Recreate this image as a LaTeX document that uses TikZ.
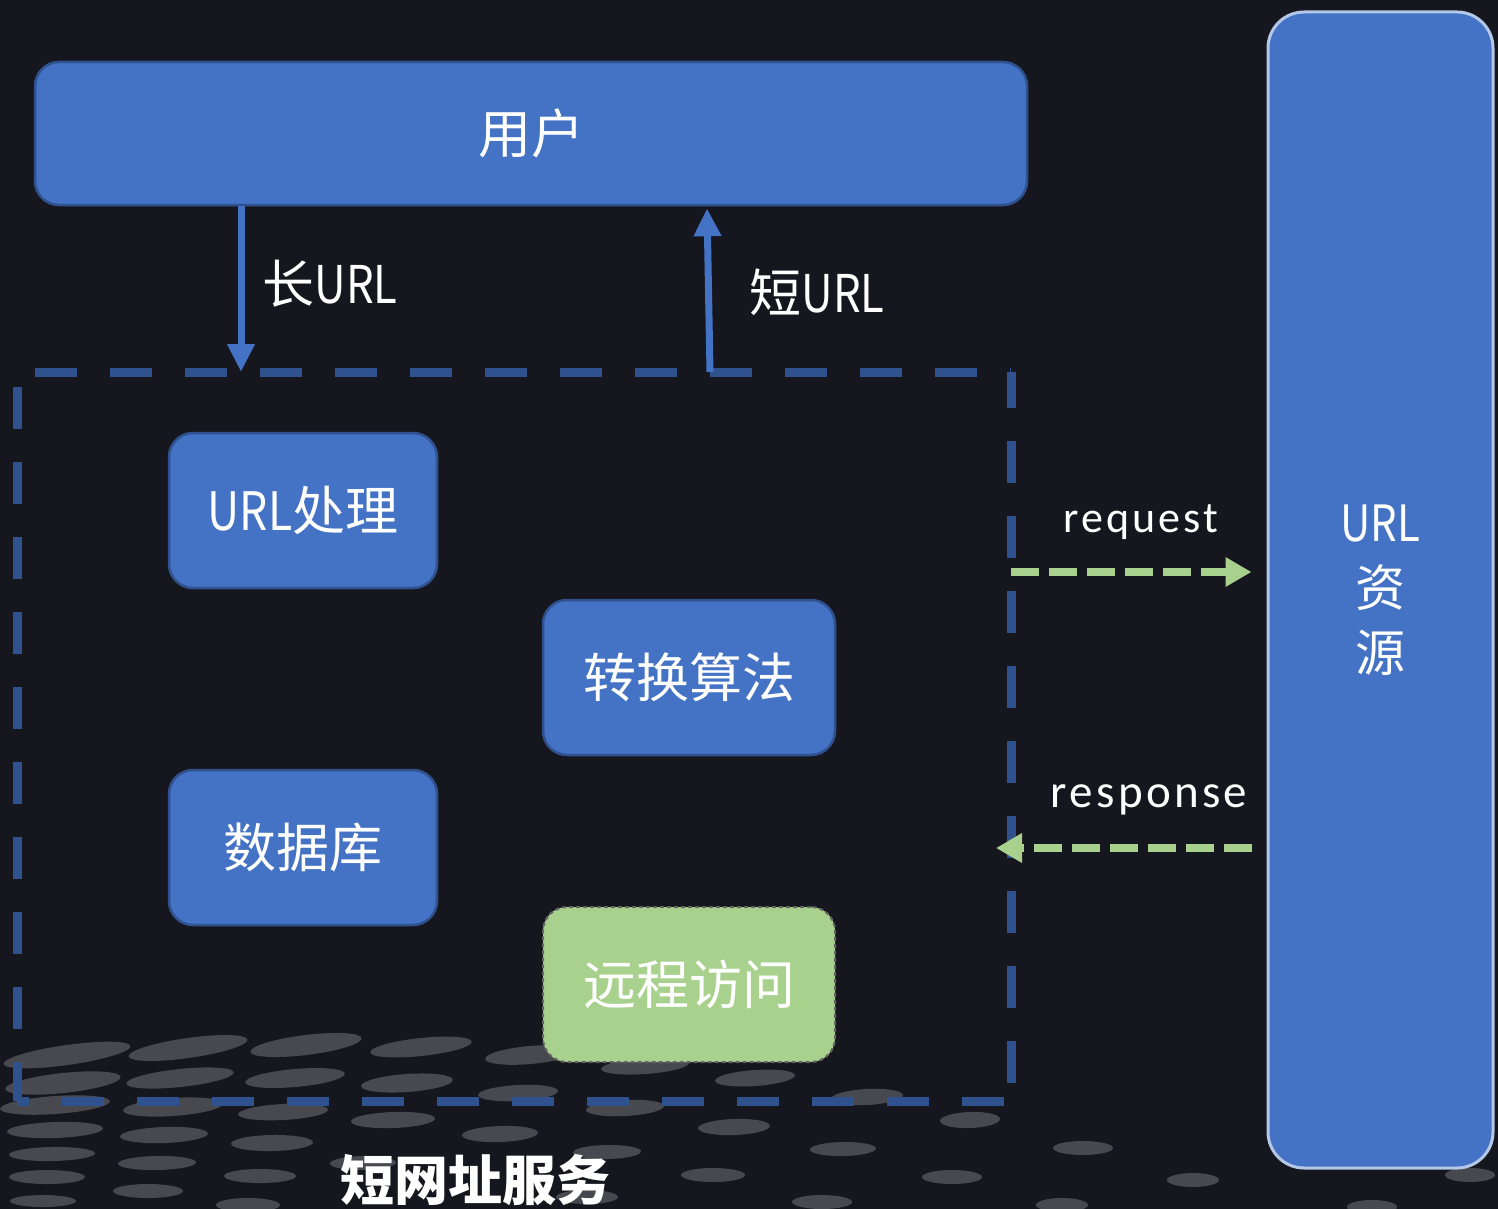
\documentclass[tikz,border=0pt]{standalone}
\usepackage{graphicx}
\usepackage{fontspec}
\setmainfont{Noto Sans CJK SC}
\newfontfamily\reqfont[LetterSpace=7]{Carlito}
\newcommand\condurl{\scalebox{0.84}[1]{URL}}
\usetikzlibrary{arrows.meta,calc}
\definecolor{bgc}{RGB}{22,22,30}
\definecolor{boxblue}{RGB}{68,114,196}
\definecolor{boxedge}{RGB}{47,82,143}
\definecolor{lightedge}{RGB}{180,199,231}
\definecolor{lgreen}{RGB}{169,209,142}
\definecolor{dotc}{RGB}{72,72,79}
\definecolor{greyedge}{RGB}{100,100,100}
\tikzset{
  bluebox/.style={draw=boxedge, line width=2.5pt, fill=boxblue, rounded corners=24pt,
    text=white, font=\fontsize{53}{60}\selectfont, inner sep=0pt},
  greenbox/.style={draw=greyedge, line width=2pt, dash pattern=on 4pt off 3pt, fill=lgreen,
    rounded corners=24pt, text=white, font=\fontsize{53}{60}\selectfont, inner sep=0pt},
  container/.style={inner sep=0pt, outer sep=0pt},
  cside/.style={draw=boxedge, line width=9pt, dash pattern=on 42pt off 33pt},
  uarrow/.style={draw=boxblue, line width=7pt, -{Triangle[width=26pt,length=28pt]}},
  garrow/.style={draw=lgreen, line width=8pt, dash pattern=on 28pt off 10pt,
    -{Triangle[width=28pt,length=26pt]}},
  lbl/.style={text=white, inner sep=0pt, font=\fontsize{52}{60}\selectfont},
  dotfill/.style={fill=dotc}
}
\begin{document}
\begin{tikzpicture}[x=1pt,y=-1pt]
\fill[bgc] (0,0) rectangle (1498,1209);
\useasboundingbox (0,0) rectangle (1498,1209);
% background ellipse pattern
\foreach \cx/\cy/\ra/\rb/\ang in {
  67/1055/64/10/8, 188/1048/60/10/8, 306/1045/56/10/7, 421/1047/51/9/6, 530/1055/45/9/5,
  645/1066/44/8/4, 755/1078/40/8/4, 867/1097/36/8/3, 970/1120/30/8/2,
  63/1083/58/10/6, 180/1078/54/9/6, 295/1078/50/9/5, 407/1083/46/9/4, 518/1093/40/8/3,
  55/1105/55/9/4, 173/1107/50/9/4, 283/1112/45/8/3, 393/1120/42/8/2, 625/1108/39/8/3, 500/1134/38/8/2,
  55/1130/48/8/2, 164/1135/44/8/2, 272/1143/41/8/1, 734/1127/36/8/2, 843/1149/33/7/1,
  52/1154/43/7/1, 157/1163/39/7/1, 260/1176/36/7/0, 363/1163/33/7/1, 607/1152/34/7/1,
  713/1175/32/7/0, 952/1177/30/7/0, 1083/1148/30/7/0,
  47/1177/38/7/0, 148/1191/35/7/0, 248/1205/32/7/0, 587/1197/31/7/0, 822/1202/30/7/0,
  1193/1180/26/7/0, 1062/1205/26/7/0, 1372/1207/25/7/0, 1470/1175/25/7/0,
  43/1201/33/6/0}
  \fill[dotfill, rotate around={\ang:(\cx,\cy)}] (\cx,\cy) ellipse [x radius=\ra, y radius=\rb];
% container (dashed frame drawn side by side)
\node[container, minimum width=994pt, minimum height=729pt] (svc) at (514,736.5) {};
\draw[cside, dash phase=57pt] (svc.north west) -- (svc.north east);
\draw[cside, dash phase=6pt] (svc.north east) -- (svc.south east);
\draw[cside, dash phase=60pt] (svc.north west) -- (svc.south west);
\draw[cside, dash phase=30pt] (svc.south west) -- (svc.south east);
% top user box
\node[bluebox, minimum width=992pt, minimum height=143pt] (user) at (531,133.5) {用户};
% inner boxes
\node[bluebox, minimum width=268pt, minimum height=155pt] (proc) at (303,510.5) {\condurl 处理};
\node[bluebox, minimum width=292pt, minimum height=155pt] (conv) at (689,677.5) {转换算法};
\node[bluebox, minimum width=268pt, minimum height=155pt] (db) at (303,847.5) {数据库};
\node[greenbox, minimum width=292pt, minimum height=155pt] (remote) at (689,984.5) {远程访问};
% resource box
\node[bluebox, draw=lightedge, line width=3pt, rounded corners=36pt,
  minimum width=225pt, minimum height=1156pt, align=center,
  font=\fontsize{50}{65}\selectfont] (res) at (1380.5,590) {\condurl\\资\\源};
% arrows between user and service
\coordinate (longx) at (241,0);
\coordinate (shortbot) at (710,0);
\coordinate (shorttop) at (707,0);
\draw[uarrow] (user.south -| longx) -- (svc.north -| longx);
\draw[uarrow] (svc.north -| shortbot) -- ([yshift=-2pt]user.south -| shorttop);
\node[lbl] (longlbl) at (330,284) {长\condurl};
\node[lbl] (shortlbl) at (817,292) {短\condurl};
% request / response
\coordinate (reqy) at (0,572);
\coordinate (resy) at (0,848);
\draw[garrow, shorten >=15pt] (svc.east |- reqy) -- (res.west |- reqy);
\draw[garrow, shorten <=15pt, shorten >=-15pt] (res.west |- resy) -- (svc.east |- resy);
\node[text=white, inner sep=0pt, anchor=base, font=\reqfont\fontsize{44}{52}\selectfont] (reqlbl) at (1141,532) {request};
\node[text=white, inner sep=0pt, anchor=base, font=\reqfont\fontsize{47}{56}\selectfont] (reslbl) at (1149,807) {response};
% title
\node[text=white, inner sep=0pt, font=\bfseries\fontsize{54}{64}\selectfont] (title) at (475,1180) {短网址服务};
\end{tikzpicture}
\end{document}
